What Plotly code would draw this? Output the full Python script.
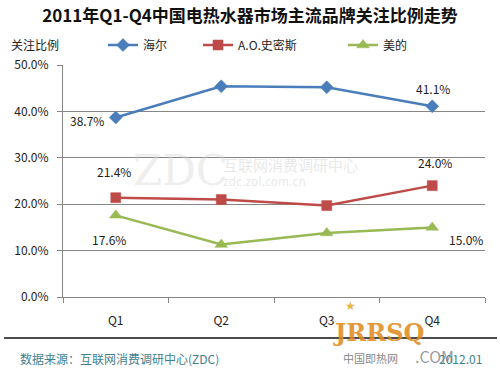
import plotly.graph_objects as go

quarters = ["Q1", "Q2", "Q3", "Q4"]
haier = [38.7, 45.4, 45.2, 41.1]
aosmith = [21.4, 21.0, 19.7, 24.0]
midea = [17.6, 11.3, 13.8, 15.0]
y_ticks = [0, 10, 20, 30, 40, 50]
y_tick_labels = ["0.0%", "10.0%", "20.0%", "30.0%", "40.0%", "50.0%"]

FONT = "Noto Sans CJK SC"
W, H = 500, 375

def cy(px):
    return 1 - px / H

def cx(px):
    return px / W

series = [
    ("海尔", haier, "#4a7ebb", "diamond", 10, "legend", 103),
    ("A.O.史密斯", aosmith, "#be4b48", "square", 10, "legend2", 198),
    ("美的", midea, "#98b954", "triangle-up", 11, "legend3", 343),
]

fig = go.Figure()
for name, vals, color, sym, size, leg, lx in series:
    fig.add_trace(go.Scatter(
        x=quarters, y=vals, name=name, mode="lines+markers", legend=leg,
        line=dict(color=color, width=2.5),
        marker=dict(symbol=sym, size=size, color=color,
                    line=dict(color=color, width=0.5)),
    ))

# data label offsets (x px, y px up)
offsets = {
    "海尔": [(-29, -3), None, None, (1, 18)],
    "A.O.史密斯": [(-2, 26), None, None, (3, 23)],
    "美的": [(-7, -24), None, None, (34, -12)],
}
for name, vals, color, sym, size, leg, lx in series:
    for i, v in enumerate(vals):
        off = offsets[name][i]
        if off is None:
            continue
        fig.add_annotation(x=quarters[i], y=v, text=f"{v:.1f}%", showarrow=False,
                           xshift=off[0], yshift=off[1],
                           font=dict(family=FONT, size=12, color="#222222"))

legend_common = dict(orientation="h", xref="container", yref="container",
                     xanchor="left", yanchor="middle", y=cy(45),
                     font=dict(family=FONT, size=12, color="#222222"),
                     bgcolor="rgba(0,0,0,0)", itemwidth=30)
layout_legends = {}
for name, vals, color, sym, size, leg, lx in series:
    layout_legends[leg] = dict(legend_common, x=cx(lx))

fig.update_layout(
    width=W, height=H,
    margin=dict(l=63, r=15, t=65, b=78, autoexpand=False),
    paper_bgcolor="white", plot_bgcolor="white",
    font=dict(family=FONT, size=12, color="#222222"),
    title=dict(text="<b>2011年Q1-Q4中国电热水器市场主流品牌关注比例走势</b>",
               x=0.5, xanchor="center", xref="container",
               y=cy(16), yanchor="middle", yref="container",
               font=dict(family=FONT, size=17, color="#111111")),
    showlegend=True,
    xaxis=dict(showgrid=False, showline=True, linecolor="#868686", linewidth=1,
               ticks="outside", ticklen=5, tickcolor="#868686", tickson="boundaries",
               ticklabelstandoff=13,
               range=[-0.5, 3.5], tickfont=dict(family=FONT, size=12, color="#222222"),
               fixedrange=True),
    yaxis=dict(range=[0, 50], tickvals=y_ticks, ticktext=y_tick_labels,
               showgrid=True, gridcolor="#868686", gridwidth=1,
               showline=True, linecolor="#868686", linewidth=1,
               ticks="outside", ticklen=5, tickcolor="#868686", ticklabelstandoff=6,
               zeroline=False, tickfont=dict(family=FONT, size=12, color="#222222")),
    **layout_legends,
)

def px_x(p):
    return (p - 63) / 422

def px_y(p):
    return (297 - p) / 232

# y axis title
fig.add_annotation(text="关注比例", xref="paper", yref="paper",
                   x=px_x(9), y=px_y(44),
                   xanchor="left", yanchor="middle", showarrow=False,
                   font=dict(family=FONT, size=12, color="#222222"))

# watermark
fig.add_annotation(text="ZDC", xref="paper", yref="paper", x=px_x(131), y=px_y(170),
                   xanchor="left", yanchor="middle", showarrow=False,
                   font=dict(family="DejaVu Serif", size=42, color="rgba(210,210,210,0.4)"))
fig.add_annotation(text="互联网消费调研中心", xref="paper", yref="paper", x=px_x(221), y=px_y(164),
                   xanchor="left", yanchor="middle", showarrow=False,
                   font=dict(family=FONT, size=15, color="rgba(210,210,210,0.5)"))
fig.add_annotation(text="zdc.zol.com.cn", xref="paper", yref="paper", x=px_x(221), y=px_y(180),
                   xanchor="left", yanchor="middle", showarrow=False,
                   font=dict(family=FONT, size=12, color="rgba(210,210,210,0.5)"))

# bottom separator line
fig.add_shape(type="line", xref="paper", yref="paper", x0=px_x(4), x1=px_x(497),
              y0=px_y(338), y1=px_y(338), line=dict(color="#111111", width=1.5))

# source text
fig.add_annotation(text="数据来源：互联网消费调研中心(ZDC)", xref="paper", yref="paper",
                   x=px_x(18), y=px_y(358), xanchor="left", yanchor="middle", showarrow=False,
                   font=dict(family=FONT, size=12, color="#3f7f8f"))
fig.add_annotation(text="2012.01", xref="paper", yref="paper",
                   x=px_x(484), y=px_y(358), xanchor="right", yanchor="middle", showarrow=False,
                   font=dict(family=FONT, size=12, color="#3f7f8f"))

# logo approximation
fig.add_annotation(text="★", xref="paper", yref="paper", x=px_x(350), y=px_y(306),
                   xanchor="center", yanchor="middle", showarrow=False,
                   font=dict(family="DejaVu Sans", size=12, color="rgba(230,170,40,0.9)"))
fig.add_annotation(text="<b>JRRSQ</b>", xref="paper", yref="paper", x=px_x(378), y=px_y(332),
                   xanchor="center", yanchor="middle", showarrow=False,
                   font=dict(family="DejaVu Serif", size=24, color="rgba(225,140,30,0.9)"))
fig.add_annotation(text="中国即热网", xref="paper", yref="paper", x=px_x(400), y=px_y(358),
                   xanchor="right", yanchor="middle", showarrow=False,
                   font=dict(family=FONT, size=11, color="#888888"))
fig.add_annotation(text=".COM", xref="paper", yref="paper", x=px_x(434), y=px_y(356),
                   xanchor="center", yanchor="middle", showarrow=False,
                   font=dict(family=FONT, size=16, color="rgba(120,120,120,0.75)"))

fig.write_html("out.html", config={"displayModeBar": False},
               post_script="document.body.style.margin='0';document.body.style.overflow='hidden';")
